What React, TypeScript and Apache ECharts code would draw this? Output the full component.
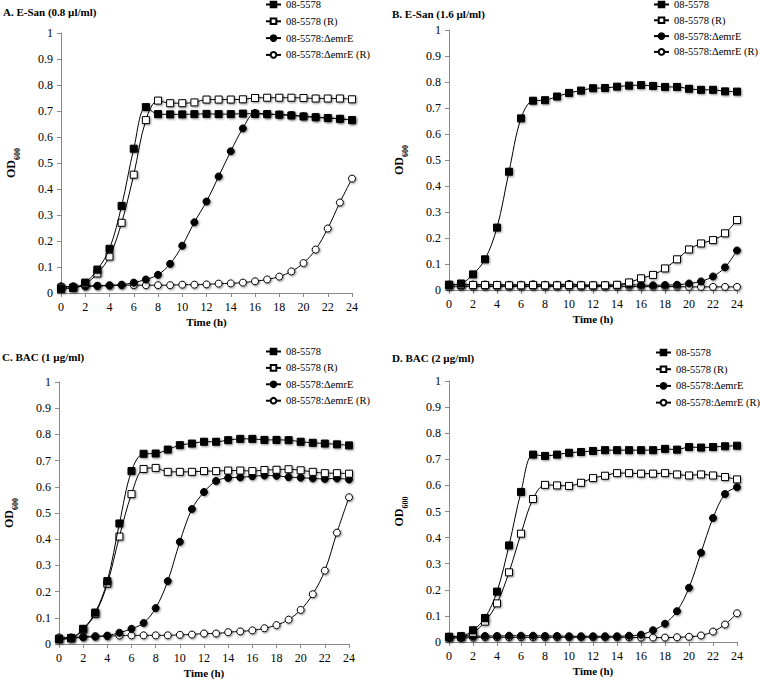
import React, { useEffect, useRef } from "react";
import * as echarts from "echarts";

const HOURS = [0, 1, 2, 3, 4, 5, 6, 7, 8, 9, 10, 11, 12, 13, 14, 15, 16, 17, 18, 19, 20, 21, 22, 23, 24];
const SERIES_NAMES = ["08-5578", "08-5578 (R)", "08-5578:ΔemrE", "08-5578:ΔemrE (R)"];
const PANEL_TITLES = ["A. E-San (0.8 µl/ml)", "B. E-San (1.6 µl/ml)", "C. BAC (1 µg/ml)", "D. BAC (2 µg/ml)"];
const Y_TICKS = [0, 0.1, 0.2, 0.3, 0.4, 0.5, 0.6, 0.7, 0.8, 0.9, 1];

const A_WT = [0.015, 0.02, 0.04, 0.09, 0.17, 0.335, 0.555, 0.715, 0.688, 0.687, 0.687, 0.688, 0.689, 0.688, 0.688, 0.69, 0.689, 0.688, 0.686, 0.683, 0.679, 0.676, 0.673, 0.67, 0.665];
const A_WTR = [0.02, 0.02, 0.035, 0.075, 0.14, 0.27, 0.455, 0.665, 0.74, 0.73, 0.73, 0.733, 0.744, 0.744, 0.744, 0.745, 0.75, 0.751, 0.751, 0.751, 0.75, 0.748, 0.748, 0.748, 0.745];
const A_KO = [0.025, 0.025, 0.027, 0.028, 0.03, 0.032, 0.04, 0.052, 0.07, 0.112, 0.182, 0.272, 0.352, 0.448, 0.545, 0.633, 0.692, 0.688, 0.686, 0.684, 0.68, 0.676, 0.673, 0.67, 0.665];
const A_KOR = [0.025, 0.025, 0.025, 0.027, 0.028, 0.03, 0.03, 0.03, 0.03, 0.03, 0.032, 0.032, 0.033, 0.036, 0.037, 0.04, 0.045, 0.052, 0.063, 0.083, 0.115, 0.167, 0.248, 0.348, 0.44];

const B_WT = [0.02, 0.025, 0.06, 0.118, 0.24, 0.455, 0.66, 0.728, 0.73, 0.744, 0.758, 0.767, 0.776, 0.777, 0.782, 0.786, 0.788, 0.785, 0.781, 0.781, 0.774, 0.77, 0.77, 0.764, 0.763];
const B_WTR = [0.02, 0.02, 0.019, 0.019, 0.019, 0.018, 0.018, 0.019, 0.018, 0.018, 0.019, 0.018, 0.018, 0.018, 0.02, 0.029, 0.045, 0.058, 0.083, 0.118, 0.156, 0.179, 0.192, 0.218, 0.269];
const B_KO = [0.02, 0.021, 0.021, 0.021, 0.02, 0.02, 0.02, 0.022, 0.02, 0.02, 0.023, 0.02, 0.019, 0.019, 0.02, 0.02, 0.019, 0.018, 0.019, 0.02, 0.025, 0.033, 0.052, 0.087, 0.152];
const B_KOR = [0.012, 0.013, 0.013, 0.013, 0.013, 0.013, 0.013, 0.013, 0.013, 0.013, 0.013, 0.013, 0.013, 0.013, 0.013, 0.013, 0.013, 0.013, 0.013, 0.013, 0.012, 0.012, 0.012, 0.012, 0.012];

const C_WT = [0.018, 0.023, 0.058, 0.12, 0.24, 0.46, 0.66, 0.726, 0.727, 0.742, 0.759, 0.765, 0.772, 0.772, 0.778, 0.783, 0.783, 0.779, 0.779, 0.778, 0.772, 0.768, 0.765, 0.762, 0.758];
const C_WTR = [0.02, 0.022, 0.055, 0.115, 0.23, 0.41, 0.572, 0.668, 0.672, 0.657, 0.657, 0.657, 0.66, 0.66, 0.662, 0.662, 0.66, 0.664, 0.665, 0.667, 0.663, 0.657, 0.652, 0.652, 0.65];
const C_KO = [0.02, 0.022, 0.025, 0.028, 0.032, 0.043, 0.058, 0.08, 0.137, 0.24, 0.39, 0.515, 0.58, 0.622, 0.634, 0.636, 0.64, 0.643, 0.642, 0.637, 0.635, 0.632, 0.63, 0.632, 0.628];
const C_KOR = [0.025, 0.025, 0.028, 0.03, 0.03, 0.032, 0.033, 0.033, 0.033, 0.033, 0.035, 0.036, 0.04, 0.04, 0.045, 0.048, 0.052, 0.06, 0.072, 0.093, 0.13, 0.19, 0.28, 0.425, 0.56];

const D_WT = [0.02, 0.022, 0.045, 0.092, 0.193, 0.37, 0.575, 0.718, 0.713, 0.718, 0.725, 0.728, 0.732, 0.735, 0.735, 0.735, 0.735, 0.735, 0.74, 0.737, 0.747, 0.745, 0.747, 0.75, 0.752];
const D_WTR = [0.018, 0.02, 0.035, 0.078, 0.148, 0.267, 0.415, 0.548, 0.602, 0.6, 0.598, 0.61, 0.628, 0.637, 0.647, 0.647, 0.645, 0.645, 0.647, 0.642, 0.638, 0.642, 0.638, 0.632, 0.623];
const D_KO = [0.02, 0.022, 0.022, 0.023, 0.023, 0.024, 0.024, 0.024, 0.023, 0.023, 0.022, 0.022, 0.022, 0.022, 0.022, 0.024, 0.028, 0.045, 0.07, 0.118, 0.208, 0.342, 0.475, 0.567, 0.593];
const D_KOR = [0.015, 0.015, 0.017, 0.018, 0.018, 0.018, 0.018, 0.018, 0.018, 0.018, 0.018, 0.018, 0.018, 0.018, 0.018, 0.018, 0.017, 0.017, 0.017, 0.018, 0.02, 0.025, 0.04, 0.067, 0.11];

const PANEL_DATA = [
  [A_WT, A_WTR, A_KO, A_KOR],
  [B_WT, B_WTR, B_KO, B_KOR],
  [C_WT, C_WTR, C_KO, C_KOR],
  [D_WT, D_WTR, D_KO, D_KOR],
];

const FONT = "Liberation Serif";

const GRIDS = [
  { left: 61, top: 33, width: 291, height: 260 },
  { left: 449, top: 30, width: 288, height: 260 },
  { left: 59, top: 382, width: 290, height: 262 },
  { left: 449, top: 381, width: 288, height: 261 },
];
const TITLE_POS = [
  { left: 3, top: 6 },
  { left: 392, top: 8 },
  { left: 2, top: 351 },
  { left: 392, top: 352 },
];
const LEGEND_POS = [
  { left: 265, top: -1, gap: 5.8 },
  { left: 653, top: -1, gap: 4.8 },
  { left: 265, top: 346, gap: 5.4 },
  { left: 655, top: 347, gap: 5.7 },
];

const STYLES = [
  { symbol: "rect", fill: "#000" },
  { symbol: "rect", fill: "#fff" },
  { symbol: "circle", fill: "#000" },
  { symbol: "circle", fill: "#fff" },
];

export default function App() {
  const ref = useRef<HTMLDivElement>(null);
  useEffect(() => {
    if (!ref.current) return;
    const chart = echarts.init(ref.current, null, { renderer: "svg" });
    const axisColor = "#8a8a8a";
    const option: any = {
      animation: false,
      backgroundColor: "#fff",
      title: PANEL_TITLES.map((t, i) => ({
        text: t,
        left: TITLE_POS[i].left,
        top: TITLE_POS[i].top,
        padding: 0,
        textStyle: { fontFamily: FONT, fontSize: 11, fontWeight: "bold", color: "#000" },
      })),
      legend: LEGEND_POS.map((p) => ({
        orient: "vertical",
        left: p.left,
        top: p.top,
        padding: 0,
        itemWidth: 15,
        itemHeight: 7,
        itemGap: p.gap,
        data: SERIES_NAMES,
        textStyle: { fontFamily: FONT, fontSize: 10.5, color: "#000" },
        selectedMode: false,
      })),
      grid: GRIDS.map((g) => ({ ...g, containLabel: false })),
      xAxis: GRIDS.map((_, i) => ({
        type: "value",
        gridIndex: i,
        min: 0,
        max: 24,
        interval: 2,
        name: "Time (h)",
        nameLocation: "middle",
        nameGap: 23,
        nameTextStyle: { fontFamily: FONT, fontSize: 11, fontWeight: "bold", color: "#000" },
        axisLine: { show: true, lineStyle: { color: axisColor, width: 1 } },
        axisTick: { show: true, length: 4, inside: false, lineStyle: { color: axisColor } },
        axisLabel: { fontFamily: FONT, fontSize: 12, color: "#000", margin: 8 },
        splitLine: { show: false },
      })),
      yAxis: GRIDS.map((_, i) => ({
        type: "value",
        gridIndex: i,
        min: Y_TICKS[0],
        max: Y_TICKS[Y_TICKS.length - 1],
        interval: 0.1,
        name: "{a|OD}{b|600}",
        nameLocation: "middle",
        nameRotate: 90,
        nameGap: 40,
        nameTextStyle: {
          rich: {
            a: { fontFamily: FONT, fontSize: 12, fontWeight: "bold", color: "#000", lineHeight: 16, verticalAlign: "top" },
            b: { fontFamily: FONT, fontSize: 8, fontWeight: "bold", color: "#000", lineHeight: 16, verticalAlign: "bottom", padding: [4, 0, 0, 0] },
          },
        },
        axisLine: { show: true, lineStyle: { color: axisColor, width: 1 } },
        axisTick: { show: true, length: 4, inside: false, lineStyle: { color: axisColor } },
        axisLabel: { fontFamily: FONT, fontSize: 12, color: "#000", margin: 8 },
        splitLine: { show: false },
      })),
      series: [] as any[],
    };
    PANEL_DATA.forEach((panel, pi) => {
      panel.forEach((vals, si) => {
        option.series.push({
          type: "line",
          name: SERIES_NAMES[si],
          xAxisIndex: pi,
          yAxisIndex: pi,
          data: HOURS.map((h, k) => [h, vals[k]]),
          smooth: 0.35,
          symbol: STYLES[si].symbol,
          symbolSize: 7,
          showAllSymbol: true,
          z: 10 - si,
          lineStyle: { color: "#000", width: 1 },
          itemStyle: {
            color: STYLES[si].fill,
            borderColor: "#000",
            borderWidth: 1,
            shadowColor: "rgba(0,0,0,0.45)",
            shadowBlur: 2,
            shadowOffsetX: 1,
            shadowOffsetY: 1,
          },
          emphasis: { disabled: true },
        });
      });
    });
    chart.setOption(option);
    return () => chart.dispose();
  }, []);
  return (
    <div
      ref={ref}
      style={{ position: "fixed", left: 0, top: 0, width: 760, height: 682, background: "#fff" }}
    />
  );
}
